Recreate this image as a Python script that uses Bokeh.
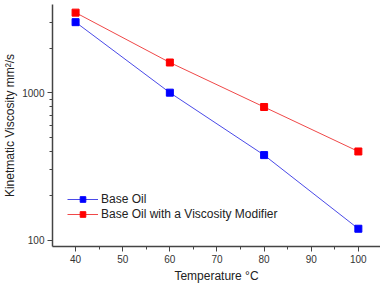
from bokeh.plotting import figure
from bokeh.models import FixedTicker, Range1d, Legend, LegendItem
from bokeh.embed import file_html
from bokeh.resources import INLINE

temps = [40, 60, 80, 100]
base_oil = [3000, 1000, 378, 120]
base_oil_vm = [3480, 1600, 800, 400]
series_names = ["Base Oil", "Base Oil with a Viscosity Modifier"]
x_ticks = [40, 50, 60, 70, 80, 90, 100]
x_minor = [35, 45, 55, 65, 75, 85, 95, 105]
y_ticks = [100, 1000]
y_minor = [200, 300, 400, 500, 600, 700, 800, 900, 2000, 3000]
x_title = "Temperature °C"
y_title = "Kinetmatic Viscosity mm²/s"

FONT = "Liberation Sans"

p = figure(width=380, height=285, y_axis_type="log", output_backend="svg",
           toolbar_location=None, x_range=Range1d(35.1, 104.7),
           y_range=Range1d(91, 3950),
           min_border_left=10, min_border_right=0, min_border_top=4, min_border_bottom=10)
p.outline_line_color = None
p.grid.visible = False
p.background_fill_color = "white"

l1 = p.line(temps, base_oil, line_color="#4a4ae8", line_width=1)
m1 = p.scatter(temps, base_oil, marker="square", size=7, fill_color="#0000ff", line_color="#0000ff")
l2 = p.line(temps, base_oil_vm, line_color="#f04848", line_width=1)
m2 = p.scatter(temps, base_oil_vm, marker="square", size=7, fill_color="#ff0000", line_color="#ff0000")

legend = Legend(items=[LegendItem(label=series_names[0], renderers=[l1, m1]),
                       LegendItem(label=series_names[1], renderers=[l2, m2])],
                location=(15, 25), border_line_color=None, background_fill_alpha=0,
                padding=0, margin=0, spacing=1, glyph_width=31, glyph_height=14,
                label_height=14, label_standoff=3,
                label_text_font=FONT, label_text_font_size="12px", label_text_color="#222222")
p.add_layout(legend)

for ax in (p.xaxis[0], p.yaxis[0]):
    ax.axis_line_color = "#444444"
    ax.axis_line_width = 1.5
    ax.major_tick_line_color = "#444444"
    ax.minor_tick_line_color = "#444444"
    ax.major_tick_in = 0
    ax.minor_tick_in = 0
    ax.major_tick_out = 5
    ax.minor_tick_out = 3
    ax.major_label_text_font = FONT
    ax.major_label_text_font_size = "10px"
    ax.major_label_text_color = "#333333"
    ax.axis_label_text_font = FONT
    ax.axis_label_text_font_size = "12px"
    ax.axis_label_text_font_style = "normal"
    ax.axis_label_text_color = "#222222"

p.xaxis.ticker = FixedTicker(ticks=x_ticks, minor_ticks=x_minor)
p.yaxis.ticker = FixedTicker(ticks=y_ticks, minor_ticks=y_minor)
p.yaxis.major_label_overrides = {100: "100", 1000: "1000"}
p.xaxis.axis_label = x_title
p.yaxis.axis_label = y_title
p.xaxis.axis_label_standoff = 3
p.yaxis.axis_label_standoff = 2
p.yaxis.major_label_standoff = 3
p.xaxis.major_label_standoff = 3

open("out.html", "w").write(file_html(p, INLINE))
